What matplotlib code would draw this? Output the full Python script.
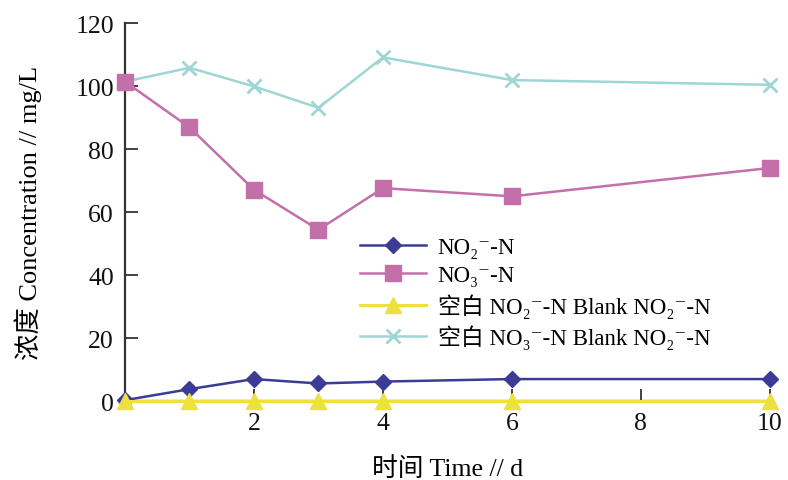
#!/usr/bin/env python3

import matplotlib
matplotlib.use('Agg')
import matplotlib.pyplot as plt

# days
days = [0, 1, 2, 3, 4, 6, 10]

# concentration, mg/L
no2 = [0.3, 3.8, 7.0, 5.6, 6.2, 7.0, 7.0]
no3 = [101.4, 86.9, 67.1, 54.4, 67.6, 65.0, 74.0]
blank_no2 = [0.0, 0.0, 0.0, 0.0, 0.0, 0.0, 0.0]
blank_no3 = [101.4, 105.8, 99.9, 93.1, 109.1, 101.9, 100.4]

labels = [
    'NO₂⁻-N',
    'NO₃⁻-N',
    '空白 NO₂⁻-N Blank NO₂⁻-N',
    '空白 NO₃⁻-N Blank NO₂⁻-N',
]

x_ticks = [2, 4, 6, 8, 10]
y_ticks = [0, 20, 40, 60, 80, 100, 120]

FONTS = ['Liberation Serif', 'DejaVu Serif', 'Noto Sans CJK SC']


def main():
    plt.rcParams['font.family'] = FONTS
    plt.rcParams['font.size'] = 16

    figure = plt.figure(figsize=(7.88, 4.81), dpi=100)
    axis = figure.add_axes([0.1586, 0.164, 0.8184, 0.786])

    axis.plot(days, no2, color='#3c3c96', lw=1.8, marker='D', ms=8,
              label=labels[0], clip_on=False, zorder=4)
    axis.plot(days, no3, color='#c370aa', lw=1.8, marker='s', ms=11,
              label=labels[1], clip_on=False, zorder=3)
    axis.plot(days, blank_no2, color='#eee040', lw=2.2, marker='^', ms=12,
              label=labels[2], clip_on=False, zorder=5)
    axis.plot(days, blank_no3, color='#9dd6d2', lw=1.8, marker='x', ms=10,
              mew=2, label=labels[3], clip_on=False, zorder=2)

    axis.set_xlim(0, 10)
    axis.set_ylim(0, 120)
    axis.set_xticks(x_ticks)
    axis.set_yticks(y_ticks)

    for side in ['top', 'right']:
        axis.spines[side].set_visible(False)
    for side in ['left', 'bottom']:
        axis.spines[side].set_color('#333333')
        axis.spines[side].set_linewidth(1.6)

    axis.tick_params(direction='in', length=9, width=1.3, colors='#333333',
                     labelcolor='#111111', labelsize=18.5, pad=8)
    axis.tick_params(axis='y', pad=8)

    axis.set_xlabel('时间 Time // d', fontsize=18.5, labelpad=16)
    axis.set_ylabel('浓度 Concentration // mg/L', fontsize=19, labelpad=24)

    axis.legend(loc='upper left', bbox_to_anchor=(0.35, 0.458),
                frameon=False, handlelength=2.9, handletextpad=0.5,
                labelspacing=0.3, borderaxespad=0, fontsize=16.5)

    figure.savefig('out.png', dpi=100)
    return 0
#-- main


if __name__ == '__main__':
    main()
